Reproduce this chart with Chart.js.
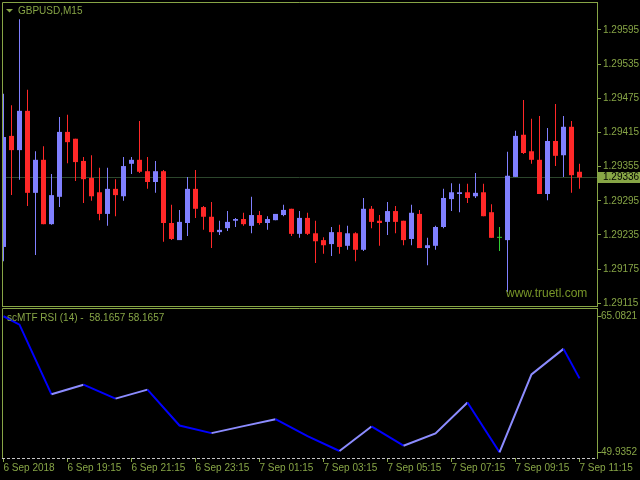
<!DOCTYPE html>
<html>
<head>
<meta charset="utf-8">
<script src="https://cdn.jsdelivr.net/npm/chart.js@4.4.1/dist/chart.umd.min.js"></script>
<style>
  html, body { margin: 0; padding: 0; background: #000; }
  #wrap { position: relative; width: 640px; height: 480px; background: #000; overflow: hidden; }
  canvas { position: absolute; left: 0; }
  #price { top: 0; }
  #rsi { top: 308px; }
</style>
</head>
<body>
<div id="wrap">
  <canvas id="price" width="640" height="308"></canvas>
  <canvas id="rsi" width="640" height="172"></canvas>
</div>
<script>
// GBPUSD M15, 6 Sep 17:15 .. 7 Sep 11:15 (73 bars)
const symbolTitle = "GBPUSD,M15";
const rsiTitle = "scMTF RSI (14) -  58.1657 58.1657";
const timeLabels = ["6 Sep 2018", "6 Sep 19:15", "6 Sep 21:15", "6 Sep 23:15", "7 Sep 01:15",
  "7 Sep 03:15", "7 Sep 05:15", "7 Sep 07:15", "7 Sep 09:15", "7 Sep 11:15"];
const timeTickBars = [0, 8, 16, 24, 32, 40, 48, 56, 64, 72];

const opens = [1.29214,1.29409,1.29384,1.29453,1.29309,1.29367,1.29254,1.29302,1.29416,1.29404,
  1.29365,1.29335,1.29310,1.29272,1.29316,1.29303,1.29360,1.29367,1.29347,1.29328,
  1.29347,1.29256,1.29226,1.29256,1.29316,1.29284,1.29267,1.29240,1.29247,1.29260,
  1.29263,1.29251,1.29270,1.29256,1.29261,1.29270,1.29281,1.29237,1.29265,1.29238,
  1.29226,1.29219,1.29240,1.29216,1.29238,1.29209,1.29281,1.29260,1.29258,1.29277,
  1.29260,1.29228,1.29272,1.29212,1.29216,1.29249,1.29298,1.29307,1.29310,1.29303,
  1.29310,1.29275,1.29230,1.29226,1.29337,1.29411,1.29382,1.29367,1.29307,1.29400,
  1.29375,1.29425,1.29346];
const highs = [1.29483,1.29463,1.29614,1.29490,1.29382,1.29391,1.29342,1.29442,1.29446,1.29404,
  1.29372,1.29375,1.29353,1.29353,1.29333,1.29372,1.29372,1.29435,1.29372,1.29365,
  1.29349,1.29288,1.29279,1.29337,1.29349,1.29286,1.29293,1.29260,1.29277,1.29265,
  1.29274,1.29302,1.29277,1.29268,1.29272,1.29288,1.29281,1.29277,1.29274,1.29260,
  1.29231,1.29249,1.29253,1.29251,1.29240,1.29300,1.29286,1.29270,1.29293,1.29286,
  1.29260,1.29288,1.29279,1.29230,1.29251,1.29316,1.29326,1.29325,1.29325,1.29344,
  1.29325,1.29289,1.29249,1.29381,1.29418,1.29472,1.29439,1.29444,1.29423,1.29465,
  1.29444,1.29435,1.29360];
const lows = [1.29189,1.29305,1.29332,1.29286,1.29200,1.29254,1.29253,1.29284,1.29361,1.29330,
  1.29291,1.29295,1.29261,1.29251,1.29268,1.29295,1.29342,1.29344,1.29316,1.29309,
  1.29223,1.29226,1.29226,1.29233,1.29265,1.29244,1.29212,1.29235,1.29242,1.29249,
  1.29251,1.29238,1.29253,1.29244,1.29261,1.29268,1.29233,1.29230,1.29235,1.29186,
  1.29202,1.29198,1.29202,1.29209,1.29189,1.29207,1.29247,1.29216,1.29235,1.29238,
  1.29217,1.29217,1.29212,1.29182,1.29209,1.29247,1.29277,1.29275,1.29291,1.29300,
  1.29268,1.29230,1.29207,1.29135,1.29337,1.29377,1.29360,1.29307,1.29296,1.29356,
  1.29337,1.29309,1.29316];
const closes = [1.29407,1.29384,1.29453,1.29309,1.29367,1.29254,1.29305,1.29416,1.29398,1.29363,
  1.29333,1.29303,1.29272,1.29316,1.29305,1.29356,1.29367,1.29346,1.29328,1.29347,
  1.29256,1.29228,1.29258,1.29316,1.29281,1.29267,1.29240,1.29244,1.29258,1.29263,
  1.29254,1.29270,1.29256,1.29263,1.29272,1.29279,1.29237,1.29265,1.29237,1.29224,
  1.29217,1.29240,1.29214,1.29238,1.29209,1.29281,1.29258,1.29256,1.29277,1.29258,
  1.29226,1.29274,1.29212,1.29217,1.29249,1.29300,1.29310,1.29310,1.29300,1.29309,
  1.29268,1.29230,1.29230,1.29339,1.29409,1.29379,1.29367,1.29307,1.29400,1.29374,
  1.29425,1.29340,1.29336];
const priceTicks = [1.29115, 1.29175, 1.29235, 1.29295, 1.29355, 1.29415, 1.29475, 1.29535, 1.29595];
const lastPrice = 1.29336;

// hourly RSI points (bar index -> value)
const rsiBars = [0, 2, 6, 10, 14, 18, 22, 26, 30, 34, 38, 42, 46, 50, 54, 58, 62, 66, 70, 72];
const rsiValues = [65.0821, 64.14, 56.39, 57.46, 55.91, 56.91, 52.92, 52.07, 52.85, 53.62,
  51.74, 50.08, 52.81, 50.67, 52.04, 55.47, 49.9352, 58.60, 61.45, 58.1657];
const rsiTicks = [49.9352, 65.0821];

const olive = "rgb(135,165,70)";
const bullColor = "rgb(128,128,255)";
const bearColor = "rgb(255,40,40)";
const dojiColor = "rgb(50,205,50)";
const rsiUp = "rgb(140,140,255)";
const rsiDown = "rgb(0,0,255)";

Chart.defaults.font.family = "'Liberation Sans', Arial, sans-serif";
Chart.defaults.font.size = 10;
Chart.defaults.color = olive;

const barColors = opens.map((o, i) => closes[i] > o ? bullColor : (closes[i] < o ? bearColor : dojiColor));
const xMin = -0.1875, xMax = 74.1875;

const priceDecor = {
  id: "priceDecor",
  beforeDatasetsDraw(chart) {
    const { ctx, chartArea: a, scales: { y } } = chart;
    const py = Math.round(y.getPixelForValue(lastPrice)) + 0.5;
    ctx.save();
    ctx.strokeStyle = "#2c462c";
    ctx.lineWidth = 1;
    ctx.beginPath();
    ctx.moveTo(a.left, py);
    ctx.lineTo(a.right, py);
    ctx.stroke();
    ctx.restore();
  },
  afterDraw(chart) {
    const { ctx, chartArea: a, scales: { y } } = chart;
    ctx.save();
    ctx.strokeStyle = olive;
    ctx.lineWidth = 1;
    ctx.beginPath();
    ctx.moveTo(a.left + 0.5, a.bottom + 0.5);
    ctx.lineTo(a.left + 0.5, a.top + 0.5);
    ctx.lineTo(a.right, a.top + 0.5);
    ctx.moveTo(a.left, a.bottom + 0.5);
    ctx.lineTo(a.right + 1, a.bottom + 0.5);
    ctx.stroke();

    // bid label
    const py = Math.round(y.getPixelForValue(lastPrice));
    ctx.fillStyle = olive;
    ctx.fillRect(a.right + 1, py - 5, 42, 11);
    ctx.fillStyle = "#000";
    ctx.font = "10px 'Liberation Sans', Arial, sans-serif";
    ctx.textBaseline = "middle";
    ctx.fillText(lastPrice.toFixed(5), a.right + 6, py + 0.5);

    // title
    ctx.fillStyle = olive;
    ctx.beginPath();
    ctx.moveTo(6, 9);
    ctx.lineTo(13, 9);
    ctx.lineTo(9.5, 12.5);
    ctx.closePath();
    ctx.fill();
    ctx.textBaseline = "alphabetic";
    ctx.fillText(symbolTitle, 18, 14);

    // watermark
    ctx.fillStyle = "rgb(120,150,40)";
    ctx.font = "12px 'Liberation Sans', Arial, sans-serif";
    ctx.fillText("www.truetl.com", 506, 297);
    ctx.restore();
  }
};

new Chart(document.getElementById("price"), {
  type: "bar",
  data: {
    datasets: [
      {
        data: opens.map((o, i) => ({ x: i, y: [o, closes[i]] })),
        backgroundColor: barColors,
        barThickness: 5,
        minBarLength: 1,
        grouped: false,
        inflateAmount: 0,
        borderWidth: 0
      },
      {
        data: lows.map((l, i) => ({ x: i, y: [l, highs[i]] })),
        backgroundColor: barColors,
        barThickness: 1,
        grouped: false,
        inflateAmount: 0,
        borderWidth: 0
      }
    ]
  },
  options: {
    responsive: false,
    animation: false,
    devicePixelRatio: 1,
    layout: { padding: { left: 2, top: 2, right: 0, bottom: 2 } },
    plugins: { legend: { display: false }, tooltip: { enabled: false } },
    scales: {
      x: { type: "linear", display: false, offset: false, min: xMin, max: xMax },
      y: {
        position: "right",
        min: 1.291103,
        max: 1.296441,
        beginAtZero: false,
        afterBuildTicks: s => { s.ticks = priceTicks.map(v => ({ value: v })); },
        afterFit: s => { s.width = 43; s.paddingTop = 0; s.paddingBottom = 0; },
        ticks: { autoSkip: false, padding: 2, callback: v => Number(v).toFixed(5) },
        grid: { drawOnChartArea: false, tickLength: 4, color: olive },
        border: { display: true, color: olive }
      }
    }
  },
  plugins: [priceDecor]
});

const rsiDecor = {
  id: "rsiDecor",
  afterDraw(chart) {
    const { ctx, chartArea: a } = chart;
    ctx.save();
    ctx.strokeStyle = olive;
    ctx.lineWidth = 1;
    ctx.beginPath();
    ctx.moveTo(a.left + 0.5, a.bottom);
    ctx.lineTo(a.left + 0.5, a.top + 0.5);
    ctx.lineTo(a.right, a.top + 0.5);
    ctx.stroke();
    ctx.strokeStyle = "rgb(200,200,200)";
    ctx.setLineDash([3, 2]);
    ctx.beginPath();
    ctx.moveTo(a.left, a.bottom + 0.5);
    ctx.lineTo(a.right, a.bottom + 0.5);
    ctx.stroke();
    ctx.setLineDash([]);
    ctx.fillStyle = olive;
    ctx.font = "10px 'Liberation Sans', Arial, sans-serif";
    ctx.fillText(rsiTitle, 7, 13);
    ctx.restore();
  }
};

new Chart(document.getElementById("rsi"), {
  type: "line",
  data: {
    datasets: [{
      data: rsiBars.map((b, k) => ({ x: b, y: rsiValues[k] })),
      borderWidth: 2,
      pointRadius: 0,
      tension: 0,
      borderColor: rsiDown,
      segment: { borderColor: c => c.p1.parsed.y >= c.p0.parsed.y ? rsiUp : rsiDown }
    }]
  },
  options: {
    responsive: false,
    animation: false,
    devicePixelRatio: 1,
    layout: { padding: { left: 2, top: 0, right: 0, bottom: 0 } },
    plugins: { legend: { display: false }, tooltip: { enabled: false } },
    scales: {
      x: {
        type: "linear",
        offset: false,
        min: xMin,
        max: xMax,
        afterBuildTicks: s => { s.ticks = timeTickBars.map(v => ({ value: v })); },
        afterFit: s => { s.height = 22; s.paddingLeft = 0; s.paddingRight = 0; },
        ticks: {
          autoSkip: false,
          maxRotation: 0,
          align: "start",
          padding: 0,
          callback: (v, idx) => timeLabels[idx]
        },
        grid: { drawOnChartArea: false, tickLength: 4, color: olive },
        border: { display: false }
      },
      y: {
        position: "right",
        min: 49.30,
        max: 66.0,
        afterBuildTicks: s => { s.ticks = rsiTicks.map(v => ({ value: v })); },
        afterFit: s => { s.width = 43; s.paddingTop = 0; s.paddingBottom = 0; },
        ticks: { autoSkip: false, padding: 0, callback: v => Number(v).toFixed(4) },
        grid: { drawOnChartArea: false, tickLength: 4, color: olive },
        border: { display: true, color: olive }
      }
    }
  },
  plugins: [rsiDecor]
});
</script>
</body>
</html>
